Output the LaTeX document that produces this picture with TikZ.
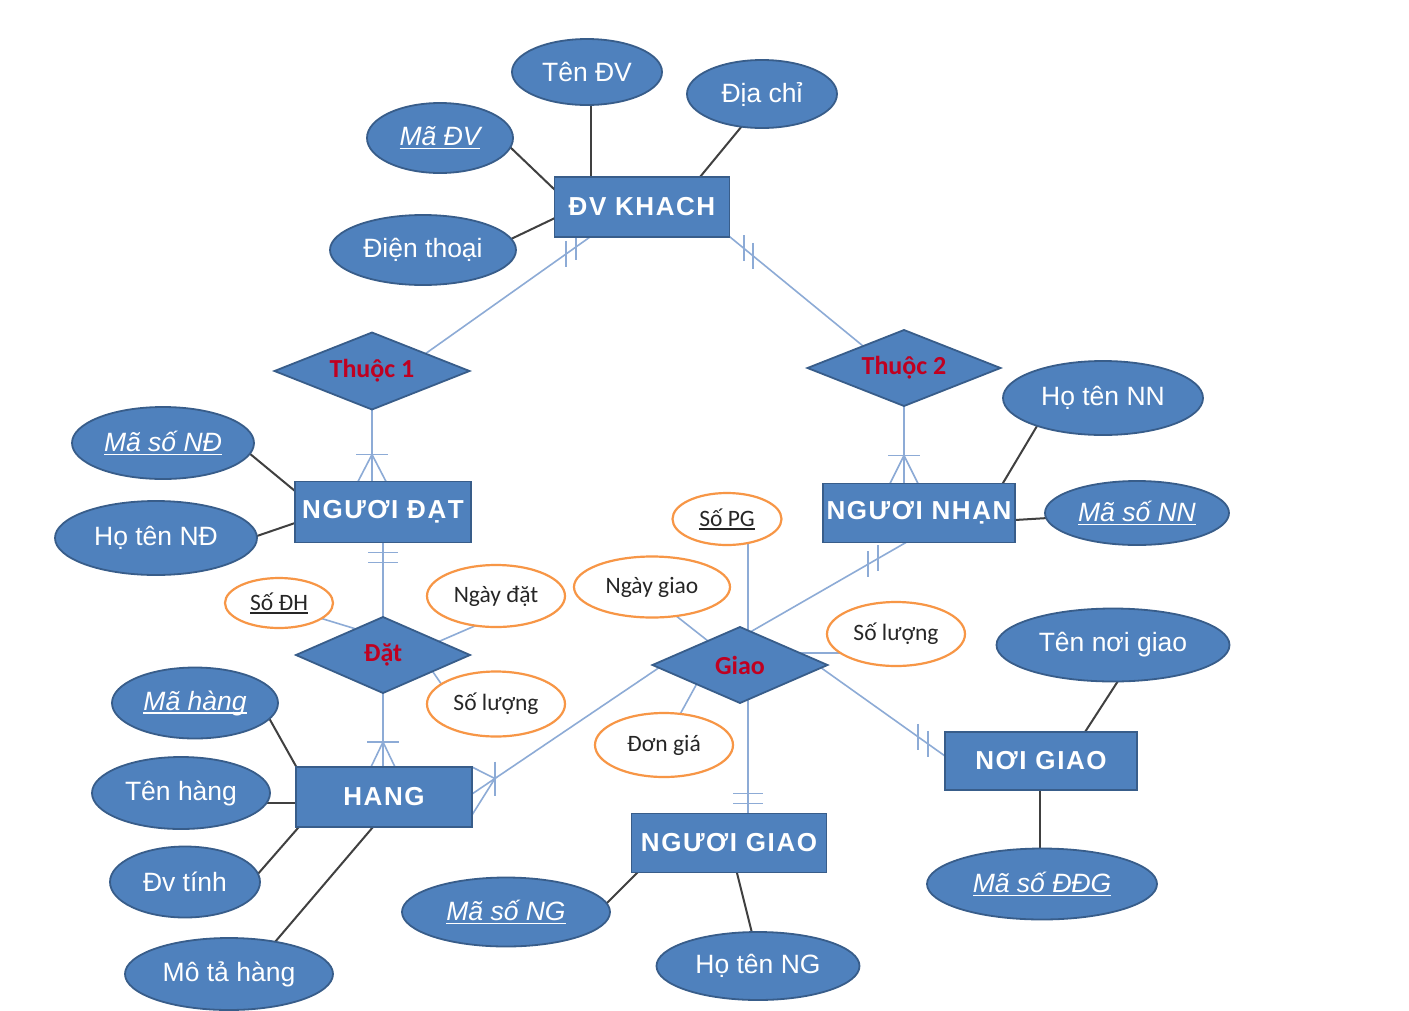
\documentclass[tikz,border=0pt]{standalone}
\usepackage{fontspec}
\setmainfont{Liberation Sans}
\newfontfamily\calfont{Carlito}
\newfontfamily\entfont[LetterSpace=6]{Liberation Sans}
\usetikzlibrary{shapes.geometric,calc,backgrounds}

\definecolor{entblue}{RGB}{79,129,189}
\definecolor{entborder}{RGB}{56,93,138}
\definecolor{relline}{RGB}{141,171,214}
\definecolor{attrline}{RGB}{64,64,64}
\definecolor{reltext}{RGB}{192,0,32}
\definecolor{orangeline}{RGB}{247,150,70}
\definecolor{darktext}{RGB}{38,38,38}

% underlined key attribute
\newcommand{\keytext}[1]{{\setbox0=\hbox{#1}\rlap{\copy0}\rule[-3.5pt]{\wd0}{1.3pt}}}

\begin{document}
\begin{tikzpicture}[x=1pt,y=-1pt,
  entitybox/.style={rectangle, fill=entblue, draw=entborder, line width=1.8pt, text=white,
    inner sep=0pt, outer sep=0pt, font={\entfont\bfseries\fontsize{26}{30}\selectfont}},
  relbox/.style={diamond, aspect=2.5, fill=entblue, draw=entborder, line width=1.8pt, text=reltext,
    inner sep=0pt, outer sep=0pt, font={\calfont\bfseries\fontsize{26}{30}\selectfont}},
  attrblue/.style={ellipse, fill=entblue, draw=entborder, line width=1.8pt, text=white,
    inner sep=0pt, outer sep=0pt, font={\fontsize{26.5}{30}\selectfont}},
  attrorange/.style={ellipse, fill=white, draw=orangeline, line width=2.2pt, text=darktext,
    inner sep=0pt, outer sep=0pt, font={\calfont\fontsize{23.5}{28}\selectfont}},
  attrlink/.style={draw=attrline, line width=2pt, shorten <=-3pt, shorten >=-3pt},
  conn/.style={draw=relline, line width=1.6pt, shorten <=-3pt, shorten >=-3pt},
  barline/.style={draw=relline, line width=1.6pt},
  sz/.style 2 args={minimum width=#1pt, minimum height=#2pt}
]
\useasboundingbox (0,0) rectangle (1409,1010);

% entities
\node[entitybox, sz={175}{60}] (dvk) at (642,207) {ĐV KHACH};
\node[entitybox, sz={176}{61}] (nd) at (383,512) {NGƯƠI ĐẠT};
\node[entitybox, sz={192}{59}] (nn) at (919,513) {NGƯƠI NHẠN};
\node[entitybox, sz={176}{60}] (hang) at (384,797) {HANG};
\node[entitybox, sz={195}{59}] (ng) at (729,843) {NGƯƠI GIAO};
\node[entitybox, sz={192}{58}] (noi) at (1041,761) {NƠI GIAO};

% relationships
\node[relbox, sz={195}{77}] (th1) at (372,371) {Thuộc 1};
\node[relbox, sz={193}{76}] (th2) at (904,368) {Thuộc 2};
\node[relbox, sz={174}{76}] (dat) at (383,655) {Đặt};
\node[relbox, sz={175}{76}] (giao) at (740,665) {Giao};

% entity attributes
\node[attrblue, sz={150}{66}] (tendv) at (587,72) {Tên ĐV};
\node[attrblue, sz={146}{70}] (madv) at (440,138) {\itshape\keytext{Mã ĐV}};
\node[attrblue, sz={150}{68}] (diachi) at (762,94) {Địa chỉ};
\node[attrblue, sz={186}{70}] (dienthoai) at (423,250) {Điện thoại};
\node[attrblue, sz={182}{72}] (masond) at (163,443) {\itshape\keytext{Mã số NĐ}};
\node[attrblue, sz={202}{74}] (hotennd) at (156,538) {Họ tên NĐ};
\node[attrblue, sz={200}{74}] (hotennn) at (1103,398) {Họ tên NN};
\node[attrblue, sz={184}{64}] (masonn) at (1137,513) {\itshape\keytext{Mã số NN}};
\node[attrblue, sz={233}{73}] (tennoi) at (1113,645) {Tên nơi giao};
\node[attrblue, sz={230}{71}] (masoddg) at (1042,884) {\itshape\keytext{Mã số ĐĐG}};
\node[attrblue, sz={166}{71}] (mahang) at (195,703) {\itshape\keytext{Mã hàng}};
\node[attrblue, sz={178}{72}] (tenhang) at (181,793) {Tên hàng};
\node[attrblue, sz={150}{71}] (dvtinh) at (185,882) {Đv tính};
\node[attrblue, sz={208}{72}] (mota) at (229,974) {Mô tả hàng};
\node[attrblue, sz={208}{69}] (masong) at (506,912) {\itshape\keytext{Mã số NG}};
\node[attrblue, sz={203}{68}] (hotenng) at (758,966) {Họ tên NG};

% relationship attributes
\node[attrorange, sz={108}{50}] (sodh) at (279,603) {\keytext{Số ĐH}};
\node[attrorange, sz={138}{62}] (ngaydat) at (496,596) {Ngày đặt};
\node[attrorange, sz={138}{65}] (soluongdat) at (496,704) {Số lượng};
\node[attrorange, sz={109}{52}] (sopg) at (727,519) {\keytext{Số PG}};
\node[attrorange, sz={156}{61}] (ngaygiao) at (652,587) {Ngày giao};
\node[attrorange, sz={138}{64}] (soluonggiao) at (896,634) {Số lượng};
\node[attrorange, sz={138}{64}] (dongia) at (664,745) {Đơn giá};

\begin{pgfonlayer}{background}
\fill[white] (0,0) rectangle (1409,1010);

% attribute links
\draw[attrlink] ($(tendv)+(4,32)$) -- ($(dvk)+(-51,-30)$);
\draw[attrlink] ($(madv)+(70,9)$) -- ($(dvk)+(-87,-17)$);
\draw[attrlink] ($(diachi)+(-20,32)$) -- ($(dvk)+(58,-30)$);
\draw[attrlink] ($(dienthoai)+(88,-11)$) -- ($(dvk)+(-87,11)$);
\draw[attrlink] ($(masond)+(86,10)$) -- ($(nd)+(-88,-21)$);
\draw[attrlink] ($(hotennd)+(98,-1)$) -- ($(nd)+(-88,11)$);
\draw[attrlink] ($(hotennn)+(-66,28)$) -- ($(nn)+(84,-30)$);
\draw[attrlink] ($(masonn)+(-89,5)$) -- ($(nn)+(96,7)$);
\draw[attrlink] ($(tennoi)+(5,36)$) -- ($(noi)+(44,-29)$);
\draw[attrlink] ($(masoddg)+(-2,-35)$) -- ($(noi)+(-1,29)$);
\draw[attrlink] ($(mahang)+(74,15)$) -- ($(hang)+(-87,-29)$);
\draw[attrlink] ($(tenhang)+(85,10)$) -- ($(hang)+(-88,6)$);
\draw[attrlink] ($(dvtinh)+(72,-7)$) -- ($(hang)+(-86,31)$);
\draw[attrlink] ($(mota)+(46,-32)$) -- ($(hang)+(-11,30)$);
\draw[attrlink] ($(masong)+(100,-8)$) -- ($(ng)+(-92,30)$);
\draw[attrlink] ($(hotenng)+(-6,-33)$) -- ($(ng)+(8,30)$);

% DV KHACH -- Thuoc 1 (one)
\draw[conn] ($(dvk)+(-52,30)$) -- coordinate[pos=0.085] (k1a) coordinate[pos=0.145] (k1b) ($(th1)+(53,-17)$);
\draw[barline] ($(k1a)+(0,-13)$) -- ($(k1a)+(0,13)$);
\draw[barline] ($(k1b)+(0,-13)$) -- ($(k1b)+(0,13)$);

% DV KHACH -- Thuoc 2 (one)
\draw[conn] ($(dvk)+(88,30)$) -- coordinate[pos=0.105] (k2a) coordinate[pos=0.173] (k2b) ($(th2)+(-41,-22)$);
\draw[barline] ($(k2a)+(0,-13)$) -- ($(k2a)+(0,13)$);
\draw[barline] ($(k2b)+(0,-13)$) -- ($(k2b)+(0,13)$);

% Thuoc 1 -- NGUOI DAT (many)
\draw[conn] (th1.south) -- ($(nd.north)+(-11,0)$);
\coordinate (cf1) at ($(nd.north)+(-11,-27)$);
\draw[barline] ($(cf1)+(-16,0)$) -- ($(cf1)+(16,0)$);
\draw[barline] (cf1) -- ($(nd.north)+(-25,0)$);
\draw[barline] (cf1) -- ($(nd.north)+(3,0)$);

% NGUOI DAT -- Dat (one)
\draw[conn] (nd.south) -- (dat.north);
\draw[barline] ($(nd.south)+(-15,10)$) -- ($(nd.south)+(15,10)$);
\draw[barline] ($(nd.south)+(-15,20)$) -- ($(nd.south)+(15,20)$);

% Dat -- HANG (many)
\draw[conn] (dat.south) -- (dat.south |- hang.north);
\coordinate (cf2) at ($(dat.south |- hang.north)+(0,-25)$);
\draw[barline] ($(cf2)+(-16,0)$) -- ($(cf2)+(16,0)$);
\draw[barline] (cf2) -- ($(dat.south |- hang.north)+(-12,0)$);
\draw[barline] (cf2) -- ($(dat.south |- hang.north)+(12,0)$);

% Thuoc 2 -- NGUOI NHAN (many)
\draw[conn] (th2.south) -- (th2.south |- nn.north);
\coordinate (cf3) at ($(th2.south |- nn.north)+(0,-28)$);
\draw[barline] ($(cf3)+(-16,0)$) -- ($(cf3)+(16,0)$);
\draw[barline] (cf3) -- ($(th2.south |- nn.north)+(-14,0)$);
\draw[barline] (cf3) -- ($(th2.south |- nn.north)+(14,0)$);

% Giao -- NGUOI NHAN (one)
\draw[conn] ($(giao)+(12,-34)$) -- coordinate[pos=0.758] (k3a) coordinate[pos=0.824] (k3b) ($(nn)+(-14,30)$);
\draw[barline] ($(k3a)+(0,-13)$) -- ($(k3a)+(0,13)$);
\draw[barline] ($(k3b)+(0,-13)$) -- ($(k3b)+(0,13)$);

% Giao -- NOI GIAO (one)
\draw[conn] ($(giao)+(80,2)$) -- coordinate[pos=0.784] (k4a) coordinate[pos=0.864] (k4b) ($(noi)+(-96,-5)$);
\draw[barline] ($(k4a)+(0,-13)$) -- ($(k4a)+(0,13)$);
\draw[barline] ($(k4b)+(0,-13)$) -- ($(k4b)+(0,13)$);

% Giao -- NGUOI GIAO (one)
\draw[conn] ($(giao.south)+(8,0)$) -- ($(ng.north)+(19,0)$);
\draw[barline] ($(ng.north)+(4,-20)$) -- ($(ng.north)+(34,-20)$);
\draw[barline] ($(ng.north)+(4,-10)$) -- ($(ng.north)+(34,-10)$);

% Giao -- HANG (many)
\draw[conn] ($(giao)+(-80,2)$) -- coordinate[pos=0.878] (cf5) ($(hang)+(88,-3)$);
\draw[barline] ($(cf5)+(0,-17)$) -- ($(cf5)+(0,17)$);
\draw[barline] (cf5) -- (hang.north east);
\draw[barline] (cf5) -- ($(hang)+(88,18)$);

% relationship attribute links
\draw[conn] ($(giao.north)+(8,0)$) -- ($(sopg.south)+(21,0)$);
\draw[conn] ($(ngaygiao)+(23,28)$) -- ($(giao)+(-32,-24)$);
\draw[conn] ($(soluonggiao)+(-55,19)$) -- ($(giao)+(58,-12)$);
\draw[conn] ($(dongia)+(14,-27)$) -- ($(giao)+(-45,22)$);
\draw[conn] ($(sodh)+(41,15)$) -- ($(dat)+(-27,-26)$);
\draw[conn] ($(ngaydat)+(-19,29)$) -- ($(dat)+(57,-14)$);
\draw[conn] ($(dat)+(50,17)$) -- ($(soluongdat)+(-54,-19)$);
\end{pgfonlayer}
\end{tikzpicture}
\end{document}
